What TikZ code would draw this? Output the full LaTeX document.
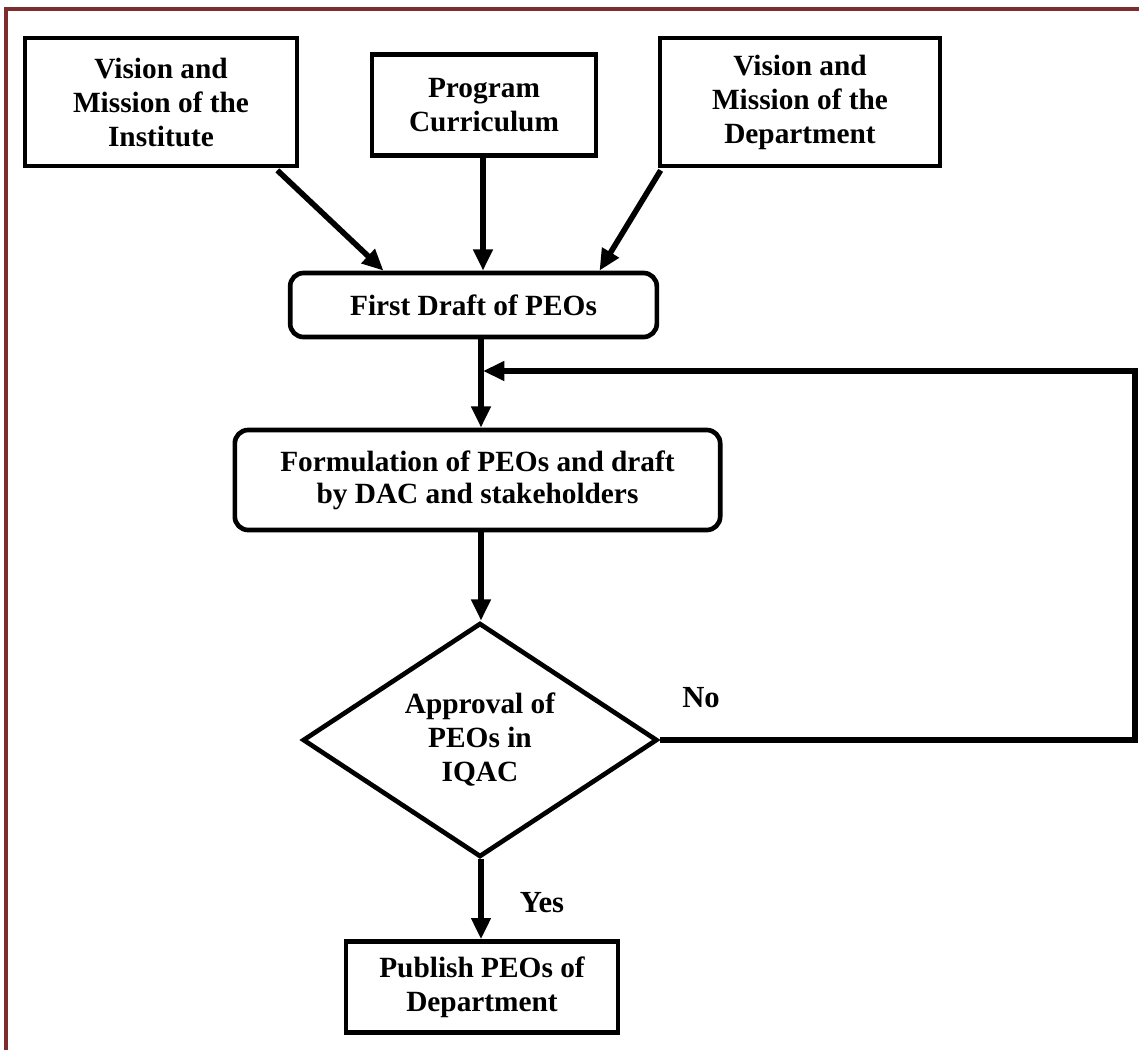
\documentclass[tikz,border=0pt]{standalone}
\usepackage{fontspec}
\setmainfont{Liberation Serif}
\usetikzlibrary{arrows.meta,shapes.geometric,calc}
\definecolor{frameRed}{RGB}{125,45,45}
\begin{document}
\begin{tikzpicture}[x=0.75pt,y=-0.75pt,
  txt/.style={font=\fontsize{22}{25.5}\selectfont\bfseries, align=center},
  sqbox/.style={txt, draw, line width=3.5pt, fill=white, inner sep=0pt},
  rbox/.style={sqbox, rounded corners=10pt},
  flow/.style={line width=4.2pt, -{Triangle[length=16pt,width=14pt]}},
  lbl/.style={font=\fontsize{23}{26}\selectfont\bfseries}]
\useasboundingbox (0,0) rectangle (1139,1050);
\fill[white] (0,0) rectangle (1139,1050);
\coordinate (frTL) at (6,9);
\coordinate (frBL) at (6,1050);
\coordinate (frTR) at (1139,9);
\draw[frameRed, line width=2.6pt] (frBL) -- (frTL) -- (frTR);

\node[sqbox, minimum width=204pt, minimum height=96pt] (vmi) at (161,102) {Vision and\\Mission of the\\Institute};
\node[sqbox, minimum width=168pt, minimum height=75.75pt] (pc) at (484,105) {Program\\Curriculum};
\node[sqbox, minimum width=210pt, minimum height=96pt] (vmd) at (800,102) {Vision and\\Mission of the\\Department};
\node[rbox, minimum width=275pt, minimum height=48pt] (fd) at (473.5,305) {First Draft of PEOs};
\node[rbox, minimum width=364pt, minimum height=75pt, font=\fontsize{22}{24}\selectfont\bfseries] (form) at (477.5,480) {Formulation of PEOs and draft\\by DAC and stakeholders};
\node[txt, draw, diamond, line width=3.5pt, fill=white, inner sep=0pt, aspect=1.517,
      minimum width=266pt, minimum height=175.5pt] (appr) at (480,740) {Approval of\\PEOs in\\IQAC};
\node[sqbox, minimum width=204pt, minimum height=68pt] (pub) at (482,987) {Publish PEOs of\\Department};

\draw[flow] ($(vmi.south east)+(-22,2)$) -- ($(fd.north)+(-90,0)$);
\draw[flow] ($(pc.south)+(-1,0)$) -- ($(fd.north)+(9.5,0)$);
\draw[flow] ($(vmd.south west)+(3,2)$) -- ($(fd.north)+(126,0)$);
\draw[flow] ($(fd.south)+(7.5,0)$) -- ($(form.north)+(3.5,0)$);
\draw[flow] ($(form.south)+(3.5,0)$) -- ($(appr.north)+(1,0)$);
\draw[flow] ($(appr.south)+(1,0)$) -- ($(pub.north)+(-1,0)$);

\coordinate (fbR) at (1135,740);
\coordinate (fbJ) at (483,371);
\draw[flow] (appr.east) -- (fbR) |- (fbJ);

\node[lbl] (no) at (701,698) {No};
\node[lbl] (yes) at (542,903) {Yes};
\end{tikzpicture}
\end{document}
